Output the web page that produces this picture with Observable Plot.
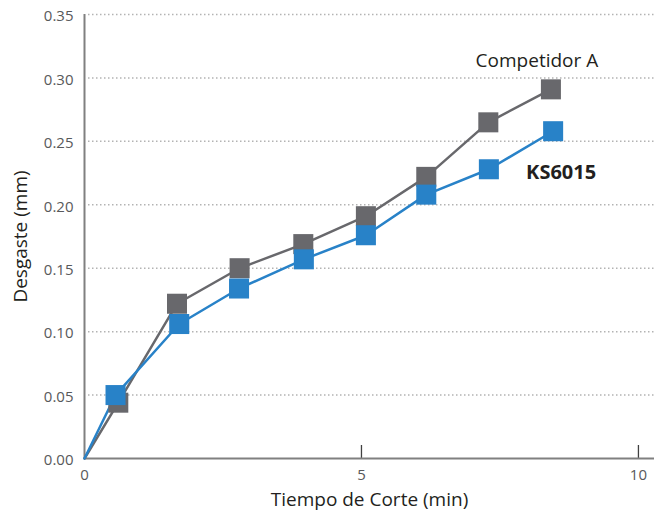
<!DOCTYPE html>
<html>
<head>
<meta charset="utf-8">
<script src="https://cdn.jsdelivr.net/npm/d3@7"></script>
<script src="https://cdn.jsdelivr.net/npm/@observablehq/plot@0.6"></script>
<style>
  html, body { margin: 0; padding: 0; background: #fff; }
</style>
</head>
<body>
<div id="chart"></div>
<script>
// ---- data ----
const seriesNames = ["Competidor A", "KS6015"];
const timeA = [0, 0.61, 1.67, 2.80, 3.95, 5.08, 6.17, 7.29, 8.42];
const wearA = [0, 0.044, 0.122, 0.150, 0.169, 0.191, 0.222, 0.265, 0.291];
const timeK = [0, 0.56, 1.71, 2.79, 3.96, 5.08, 6.17, 7.30, 8.46];
const wearK = [0, 0.050, 0.106, 0.134, 0.157, 0.176, 0.208, 0.228, 0.258];
const yTicks = [0, 0.05, 0.10, 0.15, 0.20, 0.25, 0.30, 0.35];
const gridValues = [0.05, 0.10, 0.15, 0.20, 0.25, 0.30, 0.35];
const xTicks = [0, 5, 10];
const xTickMarks = [5, 10];
const xTitle = "Tiempo de Corte (min)";
const yTitle = "Desgaste (mm)";

const colorA = "#68686c";
const colorK = "#2882c8";

const rowsA = timeA.map((t, i) => ({t, w: wearA[i], name: seriesNames[0]}));
const rowsK = timeK.map((t, i) => ({t, w: wearK[i], name: seriesNames[1]}));

const chart = Plot.plot({
  width: 654,
  height: 512,
  marginLeft: 84,
  marginRight: 0,
  marginTop: 14,
  marginBottom: 54,
  style: {fontFamily: "'Open Sans', sans-serif", fontSize: "15px", color: "#58595b", background: "#fff"},
  x: {domain: [0, 10.29]},
  y: {domain: [0, 0.35]},
  marks: [
    Plot.ruleY(gridValues, {stroke: "#b3b3b3", strokeWidth: 1.5, strokeDasharray: "1.5 2.5", insetLeft: 4}),
    Plot.tickX(xTickMarks, {stroke: "#404040", strokeWidth: 1.3, insetTop: 431}),
    Plot.ruleX([0], {stroke: "#808080", strokeWidth: 2}),
    Plot.ruleY([0], {stroke: "#808080", strokeWidth: 2}),
    Plot.axisX({ticks: xTicks, tickSize: 0, tickPadding: 11, tickFormat: d => String(d), label: null, fill: "#58595b"}),
    Plot.axisY({ticks: yTicks, tickSize: 0, tickPadding: 11, tickFormat: d3.format(".2f"), label: null, fill: "#58595b", dy: 2}),
    Plot.text([xTitle], {frameAnchor: "bottom", textAnchor: "middle", lineAnchor: "middle", dy: 41, fontSize: 19, fill: "#231f20", text: d => d}),
    Plot.text([yTitle], {frameAnchor: "left", textAnchor: "middle", lineAnchor: "middle", rotate: -90, dx: -64, fontSize: 19, fill: "#231f20", text: d => d}),
    Plot.line(rowsA, {x: "t", y: "w", stroke: colorA, strokeWidth: 2.5}),
    Plot.line(rowsK, {x: "t", y: "w", stroke: colorK, strokeWidth: 2.5}),
    Plot.dot(rowsA.slice(1), {x: "t", y: "w", symbol: "square", r: 11.3, fill: colorA, stroke: null}),
    Plot.dot(rowsK.slice(1), {x: "t", y: "w", symbol: "square", r: 11.3, fill: colorK, stroke: null}),
    Plot.text(rowsA, Plot.selectLast({x: "t", y: "w", text: "name", dx: -14, dy: -28, fontSize: 19, fill: "#231f20"})),
    Plot.text(rowsK, Plot.selectLast({x: "t", y: "w", text: "name", dx: 8, dy: 41, fontSize: 20, fontWeight: "bold", fill: "#231f20"}))
  ]
});
document.getElementById("chart").appendChild(chart);
</script>
</body>
</html>
